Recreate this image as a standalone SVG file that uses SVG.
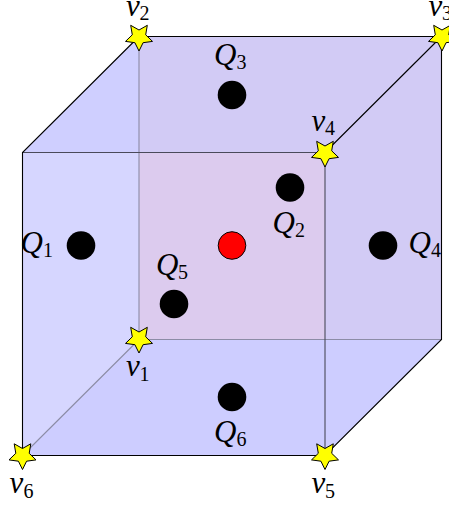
<svg xmlns="http://www.w3.org/2000/svg" width="449" height="505" viewBox="0 0 449 505">
<style>
.e{stroke:#000;stroke-width:1.1;fill:none}
.g{stroke:#8c8ca6;stroke-width:1.1;fill:none}
.m{stroke:#4a4a5a;stroke-width:1.1;fill:none}
.s{fill:#ffff00;stroke:#000;stroke-width:1}
.d{fill:#000}
.l{font-family:"Liberation Serif",serif;font-style:italic;font-size:31px;fill:#000}
.n{font-family:"Liberation Serif",serif;font-style:normal;font-size:20px}
</style>
<defs>
<polygon id="star" points="0,14 -4.1,5.7 -13.5,4.4 -6.7,-2.2 -8.3,-11.7 0,-7 8.3,-11.7 6.7,-2.2 13.5,4.4 4.1,5.7"/>
</defs>
<rect width="449" height="505" fill="#fff"/>
<g id="faces">
<polygon points="22.5,152.5 139,36.5 139,152.5" fill="#cfcfff"/>
<polygon points="22.5,152.5 139,152.5 139,339.5 22.5,455.5" fill="#d6d6ff"/>
<polygon points="139,36.5 441.5,36.5 441.5,339.5 325,339.5 325,152.5 139,152.5" fill="#d2cbf5"/>
<polygon points="139,152.5 325,152.5 325,339.5 139,339.5" fill="#dccbee"/>
<polygon points="139,339.5 441.5,339.5 325,455.5 22.5,455.5" fill="#cdcdff"/>
</g>
<g id="connectors">
<path class="g" d="M139 36.500V339.500M139 339.500H441.500M139 339.500L22.500 455.500"/>
<path class="m" d="M22.500 152.500H325M325 152.500V455.500"/>
<path class="e" d="M139 36.500H441.500V339.500L325 455.500H22.500V152.500L139 36.500M325 152.500L441.500 36.500"/>
</g>
<g id="v1"><use href="#star" class="s" x="139" y="339"/><text class="l" x="126" y="376">v<tspan class="n" x="139.500" dy="4.500">1</tspan></text></g>
<g id="v2"><use href="#star" class="s" x="139" y="37"/><text class="l" x="126" y="15.500">v<tspan class="n" x="139.500" dy="4.500">2</tspan></text></g>
<g id="v3"><use href="#star" class="s" x="442" y="37"/><text class="l" x="428.500" y="15.500">v<tspan class="n" x="442" dy="4.500">3</tspan></text></g>
<g id="v4"><use href="#star" class="s" x="325" y="153"/><text class="l" x="311.500" y="130.500">v<tspan class="n" x="325" dy="4.500">4</tspan></text></g>
<g id="v5"><use href="#star" class="s" x="325" y="455.500"/><text class="l" x="311.500" y="493">v<tspan class="n" x="325" dy="4.500">5</tspan></text></g>
<g id="v6"><use href="#star" class="s" x="22.500" y="455.500"/><text class="l" x="9.500" y="493">v<tspan class="n" x="23.500" dy="4.500">6</tspan></text></g>
<g id="Q1"><circle class="d" cx="81" cy="245.500" r="14.300"/><text class="l" x="20.500" y="253">Q<tspan class="n" x="43" dy="4">1</tspan></text></g>
<g id="Q2"><circle class="d" cx="290" cy="187.500" r="14.300"/><text class="l" x="272.500" y="232.500">Q<tspan class="n" x="295" dy="4">2</tspan></text></g>
<g id="Q3"><circle class="d" cx="232" cy="95" r="14.300"/><text class="l" x="214" y="65">Q<tspan class="n" x="236.500" dy="4">3</tspan></text></g>
<g id="Q4"><circle class="d" cx="383" cy="245.500" r="14.300"/><text class="l" x="408.500" y="253">Q<tspan class="n" x="431" dy="4">4</tspan></text></g>
<g id="Q5"><circle class="d" cx="174" cy="304" r="14.300"/><text class="l" x="156" y="275">Q<tspan class="n" x="178" dy="4">5</tspan></text></g>
<g id="Q6"><circle class="d" cx="232" cy="397" r="14.300"/><text class="l" x="214" y="441.500">Q<tspan class="n" x="236.500" dy="4">6</tspan></text></g>
<g id="center"><circle cx="232" cy="245.500" r="13.800" fill="#ff0000" stroke="#000" stroke-width="1"/></g>
</svg>
